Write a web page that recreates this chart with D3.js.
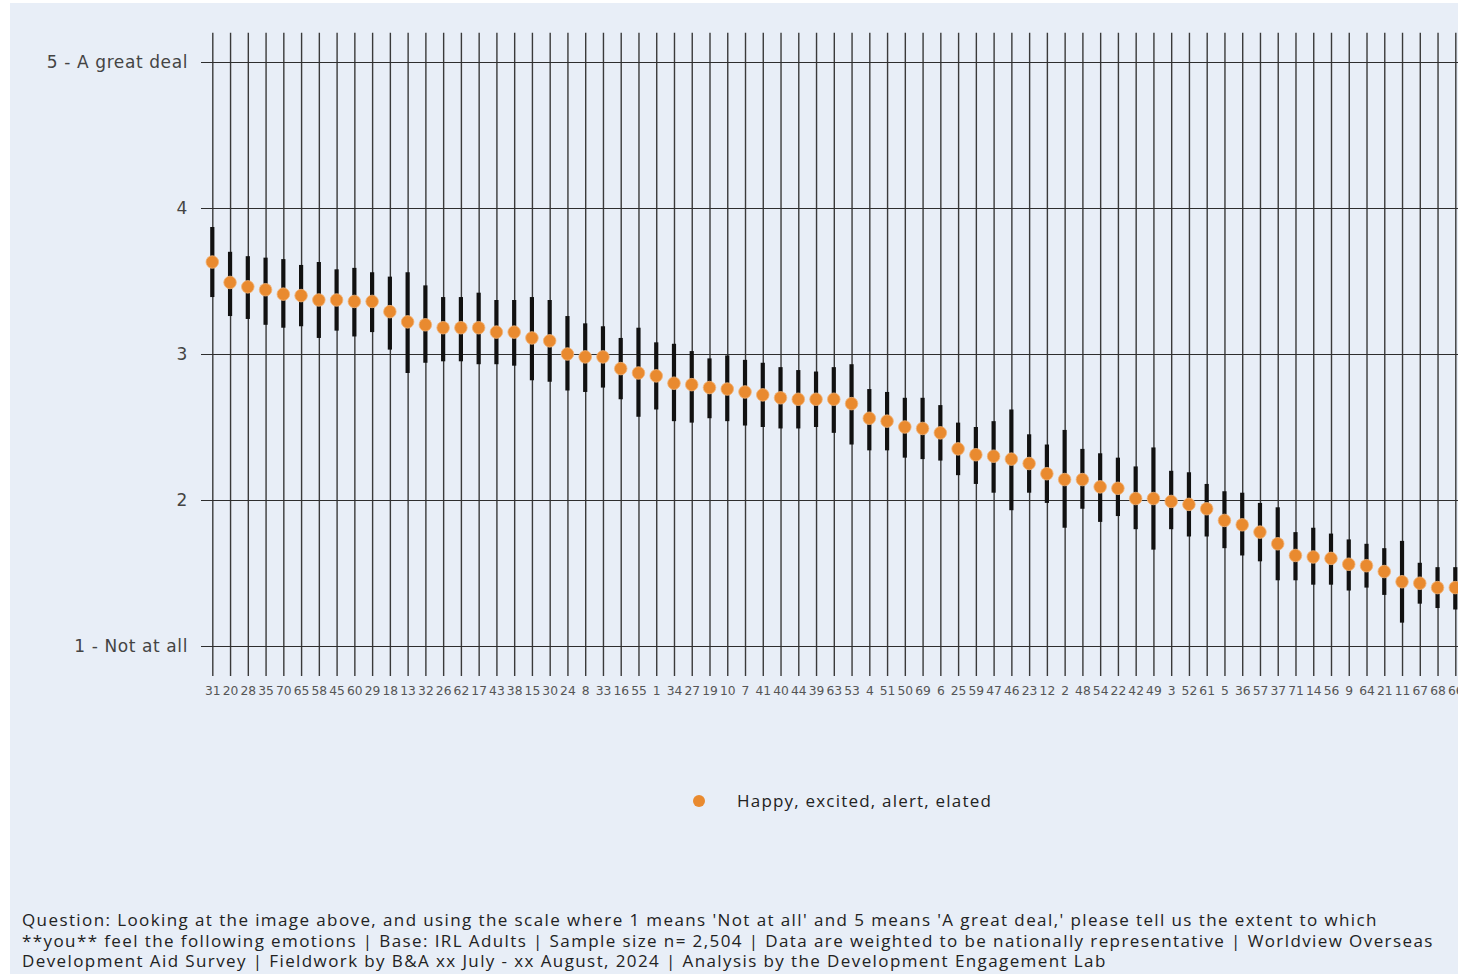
<!DOCTYPE html>
<html>
<head>
<meta charset="utf-8">
<script src="https://cdn.jsdelivr.net/npm/d3@7/dist/d3.min.js"></script>
<style>
  html, body { margin: 0; padding: 0; background: #ffffff; overflow: hidden; }
  svg { display: block; }
</style>
</head>
<body>
<svg id="chart" width="1458" height="974"></svg>
<script>
// Item codes, ordered by mean score (highest first)
const items = [31,20,28,35,70,65,58,45,60,29,18,13,32,26,62,17,43,38,15,30,
  24,8,33,16,55,1,34,27,19,10,7,41,40,44,39,63,53,4,51,50,
  69,6,25,59,47,46,23,12,2,48,54,22,42,49,3,52,61,5,36,57,
  37,71,14,56,9,64,21,11,67,68,66];

// Mean score per item
const means = [3.63,3.49,3.46,3.44,3.41,3.40,3.37,3.37,3.36,3.36,3.29,3.22,3.20,3.18,3.18,3.18,3.15,3.15,3.11,3.09,
  3.00,2.98,2.98,2.90,2.87,2.85,2.80,2.79,2.77,2.76,2.74,2.72,2.70,2.69,2.69,2.69,2.66,2.56,2.54,2.50,
  2.49,2.46,2.35,2.31,2.30,2.28,2.25,2.18,2.14,2.14,2.09,2.08,2.01,2.01,1.99,1.97,1.94,1.86,1.83,1.78,
  1.70,1.62,1.61,1.60,1.56,1.55,1.51,1.44,1.43,1.40,1.40];

// Lower and upper bounds of the interval around each mean
const lower = [3.39,3.26,3.24,3.20,3.18,3.19,3.11,3.16,3.12,3.15,3.03,2.87,2.94,2.95,2.95,2.93,2.93,2.92,2.82,2.81,
  2.75,2.74,2.77,2.69,2.57,2.62,2.54,2.53,2.56,2.54,2.51,2.50,2.49,2.49,2.50,2.46,2.38,2.34,2.34,2.29,
  2.28,2.27,2.17,2.11,2.05,1.93,2.05,1.98,1.81,1.94,1.85,1.89,1.80,1.66,1.80,1.75,1.75,1.67,1.62,1.58,
  1.45,1.45,1.42,1.42,1.38,1.40,1.35,1.16,1.29,1.26,1.25];
const upper = [3.87,3.70,3.67,3.66,3.65,3.61,3.63,3.58,3.59,3.56,3.53,3.56,3.47,3.39,3.39,3.42,3.37,3.37,3.39,3.37,
  3.26,3.21,3.19,3.11,3.18,3.08,3.07,3.02,2.97,2.99,2.96,2.94,2.91,2.89,2.88,2.91,2.93,2.76,2.74,2.70,
  2.70,2.65,2.53,2.50,2.54,2.62,2.45,2.38,2.48,2.35,2.32,2.29,2.23,2.36,2.20,2.19,2.11,2.06,2.05,1.98,
  1.95,1.78,1.81,1.77,1.73,1.70,1.67,1.72,1.57,1.54,1.54];

const yTicks = [1, 2, 3, 4, 5];
const yTickLabels = {1: "1 - Not at all", 5: "5 - A great deal"};
const seriesName = "Happy, excited, alert, elated";
const footnote = [
  "Question: Looking at the image above, and using the scale where 1 means 'Not at all' and 5 means 'A great deal,' please tell us the extent to which",
  "**you** feel the following emotions | Base: IRL Adults | Sample size n= 2,504 | Data are weighted to be nationally representative | Worldview Overseas",
  "Development Aid Survey | Fieldwork by B&A xx July - xx August, 2024 | Analysis by the Development Engagement Lab"
];

const data = items.map((code, i) => ({code: String(code), mean: means[i], lo: lower[i], hi: upper[i]}));

const W = 1458, H = 974;
const svg = d3.select("#chart");
const bg = "#e8eef7";
const orange = "#e98a2f";

svg.append("rect").attr("x", 10).attr("y", 3).attr("width", W - 10).attr("height", H - 3).attr("fill", bg);

const x = d3.scalePoint().domain(data.map(d => d.code)).range([212.3, 1455.3]);
const y = d3.scaleLinear().domain([1, 5]).range([646, 62]);

const gridTop = y(5.2), gridBottom = y(0.795);

// Vertical grid lines + category labels
const xAxis = d3.axisBottom(x).tickSize(-(gridBottom - gridTop)).tickSizeOuter(0).tickPadding(10);
const gx = svg.append("g").attr("transform", `translate(0,${gridBottom})`).call(xAxis);
gx.select(".domain").remove();
gx.selectAll(".tick line").attr("stroke", "#3a3a3a").attr("stroke-width", 1.4);
gx.selectAll(".tick text").attr("fill", "#555").attr("font-family", "DejaVu Sans").attr("font-size", 12.3);

// Horizontal grid lines + score labels
const yAxis = d3.axisLeft(y).tickValues(yTicks).tickSize(-(W - 201)).tickSizeOuter(0).tickPadding(13)
  .tickFormat(v => yTickLabels[v] || String(v));
const gy = svg.append("g").attr("transform", "translate(201,0)").call(yAxis);
gy.select(".domain").remove();
gy.selectAll(".tick line").attr("stroke", "#2e2e2e").attr("stroke-width", 1.1);
gy.selectAll(".tick text").attr("fill", "#444").attr("font-family", "DejaVu Sans")
  .attr("font-size", 17).attr("letter-spacing", 0.6);

// Interval bars
svg.append("g").selectAll("line").data(data).join("line")
  .attr("x1", d => x(d.code)).attr("x2", d => x(d.code))
  .attr("y1", d => y(d.hi)).attr("y2", d => y(d.lo))
  .attr("stroke", "#111").attr("stroke-width", 4.2);

// Mean markers
svg.append("g").selectAll("circle").data(data).join("circle")
  .attr("cx", d => x(d.code)).attr("cy", d => y(d.mean)).attr("r", 6.3)
  .attr("fill", orange).attr("stroke", "#f2b57a").attr("stroke-width", 0.8);

// Legend
const lg = svg.append("g");
lg.append("circle").attr("cx", 699).attr("cy", 801).attr("r", 6).attr("fill", orange);
lg.append("text").attr("x", 737).attr("y", 801).attr("dy", "0.35em")
  .attr("font-family", "Open Sans").attr("font-size", 17).attr("letter-spacing", 1.2)
  .attr("fill", "#222").text(seriesName);

// Footnote
svg.append("g").selectAll("text").data(footnote).join("text")
  .attr("x", 22).attr("y", (d, i) => 926 + i * 20.5)
  .attr("font-family", "Open Sans").attr("font-size", 17).attr("letter-spacing", 1.4)
  .attr("fill", "#222").text(d => d);
</script>
</body>
</html>
